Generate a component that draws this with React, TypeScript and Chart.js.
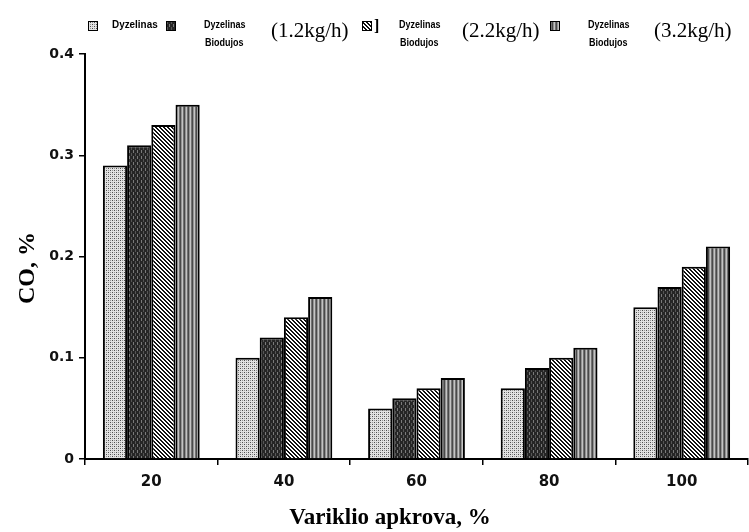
import React, { useEffect, useRef } from 'react';
import { Chart, registerables } from 'chart.js';

Chart.register(...registerables);

// ---- data ----
const categories = ['20', '40', '60', '80', '100'];
const seriesNames = ['Dyzelinas', 'Dyzelinas Biodujos', 'Dyzelinas Biodujos', 'Dyzelinas Biodujos'];
const seriesRates = ['', '(1.2kg/h)', '(2.2kg/h)', '(3.2kg/h)'];
const dyzelinas = [0.29, 0.10, 0.05, 0.07, 0.15];
const biodujos12 = [0.31, 0.12, 0.06, 0.09, 0.17];
const biodujos22 = [0.33, 0.14, 0.07, 0.10, 0.19];
const biodujos32 = [0.35, 0.16, 0.08, 0.11, 0.21];
const yTickValues = [0, 0.1, 0.2, 0.3, 0.4];
const xAxisTitle = 'Variklio apkrova, %';
const yAxisTitle = 'CO, %';

const seriesValues = [dyzelinas, biodujos12, biodujos22, biodujos32];

function makePattern(kind: number): CanvasPattern | string {
  const c = document.createElement('canvas');
  const ctx = c.getContext('2d');
  if (!ctx) return '#999';
  if (kind === 0) {
    c.width = 4; c.height = 4;
    ctx.fillStyle = '#e2e2e2'; ctx.fillRect(0, 0, 4, 4);
    ctx.fillStyle = '#4e4e4e'; ctx.fillRect(0, 0, 1, 1); ctx.fillRect(2, 2, 1, 1);
    ctx.fillStyle = '#969696'; ctx.fillRect(2, 0, 1, 1); ctx.fillRect(0, 2, 1, 1);
  } else if (kind === 1) {
    c.width = 4; c.height = 6;
    ctx.fillStyle = '#262626'; ctx.fillRect(0, 0, 4, 6);
    ctx.fillStyle = '#7a7a7a'; ctx.fillRect(1, 0, 1, 3);
    ctx.fillStyle = '#555555'; ctx.fillRect(3, 3, 1, 3);
  } else if (kind === 2) {
    c.width = 4; c.height = 4;
    ctx.fillStyle = '#ffffff'; ctx.fillRect(0, 0, 4, 4);
    ctx.fillStyle = '#111111';
    for (let i = 0; i < 4; i++) {
      ctx.fillRect(i, i, 1, 1);
      ctx.fillRect((i + 1) % 4, i, 1, 1);
    }
  } else {
    c.width = 4; c.height = 1;
    const cols = ['#4a4a4a', '#949494', '#c4c4c4', '#727272'];
    cols.forEach((col, i) => { ctx.fillStyle = col; ctx.fillRect(i, 0, 1, 1); });
  }
  return ctx.createPattern(c, 'repeat') || '#999';
}

// legend item placement
const legendBoxX = [88, 166, 362, 550];
const legendNameX = [112, 204, 399, 588];
const legendRateX = [0, 271, 462, 654];

function drawNarrow(ctx: CanvasRenderingContext2D, text: string, x: number, y: number, sx: number) {
  ctx.save();
  ctx.translate(x, y);
  ctx.scale(sx, 1);
  ctx.fillText(text, 0, 0);
  ctx.restore();
}

const legendPlugin = {
  id: 'customLegendAndTitles',
  afterDraw(chart: any) {
    const ctx: CanvasRenderingContext2D = chart.ctx;
    ctx.save();
    chart.data.datasets.forEach((ds: any, i: number) => {
      const bx = legendBoxX[i];
      ctx.fillStyle = ds.backgroundColor;
      ctx.fillRect(bx, 21, 10, 10);
      ctx.strokeStyle = '#000';
      ctx.lineWidth = 1;
      ctx.strokeRect(bx + 0.5, 21.5, 9, 9);
      const words = seriesNames[i].split(' ');
      ctx.fillStyle = '#000';
      ctx.textAlign = 'left';
      ctx.textBaseline = 'middle';
      ctx.font = (i === 0 ? 'bold 11px' : 'bold 10px') + ' "Liberation Sans", Arial, sans-serif';
      drawNarrow(ctx, words[0], legendNameX[i], 25, 0.9);
      if (words[1]) drawNarrow(ctx, words[1], legendNameX[i] + 1, 43, 0.9);
      if (seriesRates[i]) {
        ctx.font = '21px "Liberation Serif", "Times New Roman", serif';
        ctx.fillText(seriesRates[i], legendRateX[i], 31);
      }
      if (i === 2) {
        ctx.font = 'bold 16px "Liberation Serif", serif';
        ctx.fillText(']', bx + 12, 27);
      }
    });
    // axis titles
    ctx.fillStyle = '#000';
    ctx.font = 'bold 23px "Liberation Serif", "Times New Roman", serif';
    ctx.textAlign = 'center';
    ctx.textBaseline = 'alphabetic';
    ctx.fillText(xAxisTitle, 390, 524);
    ctx.save();
    ctx.translate(34, 268);
    ctx.rotate(-Math.PI / 2);
    ctx.font = 'bold 24px "Liberation Serif", "Times New Roman", serif';
    ctx.textBaseline = 'alphabetic';
    ctx.fillText(yAxisTitle, 0, 0);
    ctx.restore();
    ctx.restore();
  },
};

export default function App() {
  const ref = useRef<HTMLCanvasElement | null>(null);
  useEffect(() => {
    if (!ref.current) return;
    const datasets = seriesValues.map((vals, i) => ({
      label: seriesNames[i] + (seriesRates[i] ? ' ' + seriesRates[i] : ''),
      data: vals,
      backgroundColor: makePattern(i),
      borderColor: '#000',
      borderWidth: 2,
      categoryPercentage: 0.73,
      barPercentage: 1.0,
    }));
    const chart = new Chart(ref.current, {
      type: 'bar',
      data: { labels: categories, datasets },
      options: {
        animation: false,
        responsive: true,
        maintainAspectRatio: false,
        layout: { padding: { top: 54, right: 1, left: 0, bottom: 0 } },
        plugins: {
          legend: { display: false },
          tooltip: { enabled: false },
          title: { display: false },
        },
        scales: {
          x: {
            grid: {
              display: true,
              drawOnChartArea: false,
              drawTicks: true,
              tickLength: 6,
              color: '#000',
              lineWidth: 1.5,
              offset: true,
            },
            border: { display: true, color: '#000', width: 2 },
            ticks: {
              color: '#111',
              padding: 8,
              font: { family: '"DejaVu Sans", sans-serif', size: 15, weight: 'bold' },
            },
            afterFit: (scale: any) => { scale.height = 73; },
          },
          y: {
            min: 0,
            max: 0.4,
            afterBuildTicks: (scale: any) => {
              scale.ticks = yTickValues.map((v) => ({ value: v }));
            },
            grid: {
              display: true,
              drawOnChartArea: false,
              drawTicks: true,
              tickLength: 6,
              color: '#000',
              lineWidth: 1.5,
            },
            border: { display: true, color: '#000', width: 2 },
            ticks: {
              color: '#111',
              padding: 5,
              font: { family: '"DejaVu Sans", sans-serif', size: 14, weight: 'bold' },
              callback: (v: any) => String(Math.round(Number(v) * 10) / 10),
            },
            afterFit: (scale: any) => { scale.width = 85; },
          },
        },
      },
      plugins: [legendPlugin],
    } as any);
    return () => chart.destroy();
  }, []);
  return (
    <div style={{ position: 'absolute', left: 0, top: 0, width: 749, height: 532, background: '#fff' }}>
      <canvas ref={ref} />
    </div>
  );
}
